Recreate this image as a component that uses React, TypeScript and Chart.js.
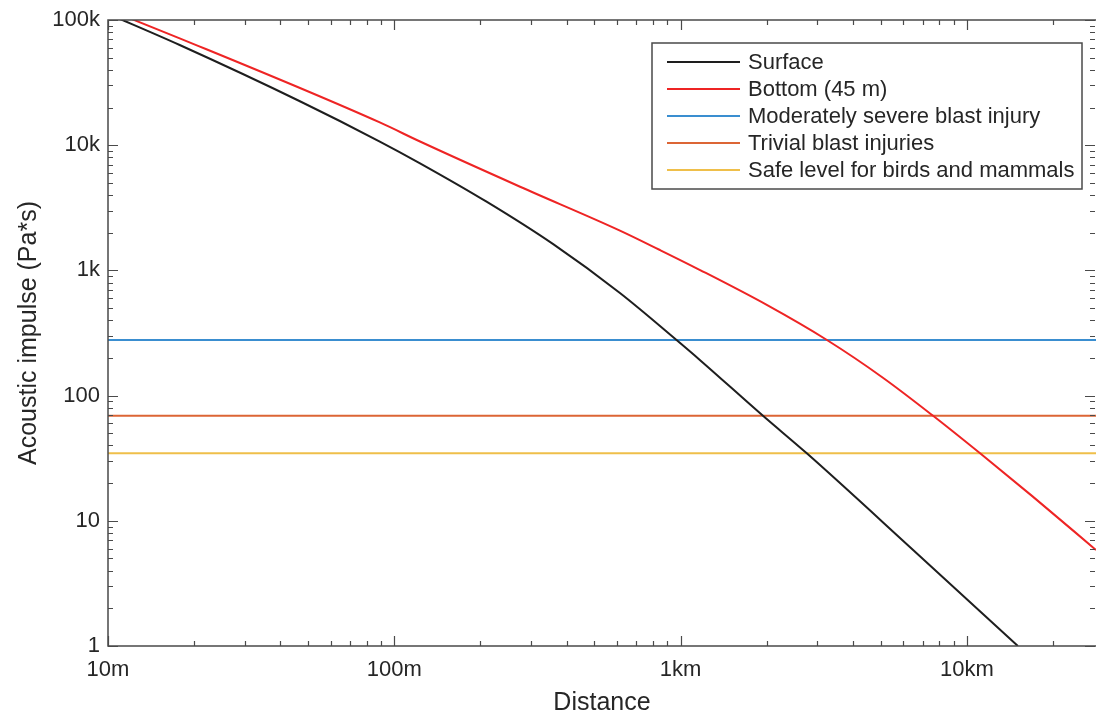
import React, { useEffect, useRef } from 'react';
import { Chart, registerables } from 'chart.js';

Chart.register(...registerables);

// ---- data ----
const xTickValues = [10, 100, 1000, 10000];
const xTickLabels = ['10m', '100m', '1km', '10km'];
const yTickValues = [1, 10, 100, 1000, 10000, 100000];
const yTickLabels = ['1', '10', '100', '1k', '10k', '100k'];

const surfaceDistance = [10, 17.8, 47, 89, 123, 210, 359, 614, 968, 1170, 1940, 2760, 6490, 15070];
const surfaceImpulse = [112000, 63100, 22340, 10700, 7170, 3540, 1620, 660, 278, 192, 69, 34.6, 5.85, 1];

const bottomDistance = [10, 17.8, 89, 123, 275, 614, 847, 1170, 2000, 3245, 5090, 7620, 11120, 17000, 28250];
const bottomImpulse = [121000, 71400, 15200, 10700, 4660, 2080, 1455, 1007, 530, 278, 139, 69, 34.6, 15.6, 5.85];

const thresholdLabels = ['Moderately severe blast injury', 'Trivial blast injuries', 'Safe level for birds and mammals'];
const thresholdValues = [278, 69, 34.6];
const thresholdColors = ['#3a8ed0', '#dc6535', '#efbf4a'];

const seriesLabels = ['Surface', 'Bottom (45 m)'];
const seriesColors = ['#1e1e1e', '#ee2424'];

const xMin = 10;
const xMax = 28250;
const yMin = 1;
const yMax = 100000;

const FONT = '"Liberation Sans", Arial, Helvetica, sans-serif';
const TEXT = '#262626';
const AXIS = '#4a4a4a';

function logTicks(min: number, max: number) {
  const out: { v: number; major: boolean }[] = [];
  const d0 = Math.floor(Math.log10(min));
  const d1 = Math.ceil(Math.log10(max));
  for (let d = d0; d <= d1; d++) {
    for (let m = 1; m <= 9; m++) {
      const v = m * Math.pow(10, d);
      if (v >= min * 0.9999 && v <= max * 1.0001) out.push({ v, major: m === 1 });
    }
  }
  return out;
}

const boxTicksPlugin = {
  id: 'boxTicks',
  afterDatasetsDraw(chart: any) {
    const { ctx, chartArea: a, scales } = chart;
    const xs = scales.x;
    const ys = scales.y;
    ctx.save();
    ctx.strokeStyle = AXIS;
    ctx.lineWidth = 1.5;
    ctx.beginPath();
    ctx.moveTo(a.right + 10, a.top);
    ctx.lineTo(a.left, a.top);
    ctx.lineTo(a.left, a.bottom);
    ctx.lineTo(a.right + 10, a.bottom);
    ctx.stroke();
    ctx.lineWidth = 1.2;
    ctx.beginPath();
    for (const t of logTicks(xMin, xMax)) {
      const px = Math.round(xs.getPixelForValue(t.v)) + 0.5;
      const len = t.major ? 10 : 5;
      ctx.moveTo(px, a.bottom);
      ctx.lineTo(px, a.bottom - len);
      ctx.moveTo(px, a.top);
      ctx.lineTo(px, a.top + len);
    }
    for (const t of logTicks(yMin, yMax)) {
      const py = Math.round(ys.getPixelForValue(t.v)) + 0.5;
      const len = t.major ? 10 : 5;
      ctx.moveTo(a.left, py);
      ctx.lineTo(a.left + len, py);
      ctx.moveTo(a.right - 1, py);
      ctx.lineTo(a.right - 1 - len, py);
    }
    ctx.stroke();
    ctx.restore();
  },
};

const legendPlugin = {
  id: 'boxLegend',
  afterDraw(chart: any) {
    const { ctx } = chart;
    const left = 652;
    const top = 43;
    const right = 1082;
    const bottom = 189;
    const rowH = 27;
    const firstY = 62;
    ctx.save();
    ctx.fillStyle = '#ffffff';
    ctx.fillRect(left, top, right - left, bottom - top);
    ctx.strokeStyle = AXIS;
    ctx.lineWidth = 1.5;
    ctx.strokeRect(left, top, right - left, bottom - top);
    ctx.font = `22px ${FONT}`;
    ctx.textBaseline = 'middle';
    ctx.textAlign = 'left';
    chart.data.datasets.forEach((ds: any, i: number) => {
      const y = firstY + i * rowH;
      ctx.strokeStyle = ds.borderColor;
      ctx.lineWidth = 2;
      ctx.beginPath();
      ctx.moveTo(667, y);
      ctx.lineTo(740, y);
      ctx.stroke();
      ctx.fillStyle = TEXT;
      ctx.fillText(ds.label, 748, y + 1);
    });
    ctx.restore();
  },
};

export default function App() {
  const canvasRef = useRef<HTMLCanvasElement | null>(null);

  useEffect(() => {
    if (!canvasRef.current) return;
    const surface = surfaceDistance.map((d, i) => ({ x: d, y: surfaceImpulse[i] }));
    const bottom = bottomDistance.map((d, i) => ({ x: d, y: bottomImpulse[i] }));
    const thresholds = thresholdValues.map((v, i) => ({
      label: thresholdLabels[i],
      data: [
        { x: xMin, y: v },
        { x: 30000, y: v },
      ],
      borderColor: thresholdColors[i],
      borderWidth: 2,
      pointRadius: 0,
      tension: 0,
    }));

    const chart = new Chart(canvasRef.current, {
      type: 'line',
      data: {
        datasets: [
          {
            label: seriesLabels[0],
            data: surface,
            borderColor: seriesColors[0],
            borderWidth: 2,
            pointRadius: 0,
            cubicInterpolationMode: 'monotone',
          },
          {
            label: seriesLabels[1],
            data: bottom,
            borderColor: seriesColors[1],
            borderWidth: 2,
            pointRadius: 0,
            cubicInterpolationMode: 'monotone',
          },
          ...thresholds,
        ] as any,
      },
      options: {
        animation: false,
        responsive: true,
        maintainAspectRatio: false,
        parsing: false as any,
        layout: { padding: { top: 20, right: 0, left: 0, bottom: 0 } },
        plugins: { legend: { display: false }, tooltip: { enabled: false } },
        scales: {
          x: {
            type: 'logarithmic',
            min: xMin,
            max: xMax,
            afterBuildTicks: (s: any) => {
              s.ticks = xTickValues.map((v) => ({ value: v }));
            },
            afterFit: (s: any) => {
              s.height = 74;
              s.paddingLeft = 0;
              s.paddingRight = 0;
            },
            ticks: {
              autoSkip: false,
              maxRotation: 0,
              padding: 11,
              color: TEXT,
              font: { family: FONT, size: 22 },
              callback: (_v: any, i: number) => xTickLabels[i],
            },
            grid: { display: false, drawTicks: false },
            border: { display: false },
            title: {
              display: true,
              text: 'Distance',
              color: TEXT,
              font: { family: FONT, size: 25 },
              padding: { top: 0, bottom: 2 },
            },
          },
          y: {
            type: 'logarithmic',
            min: yMin,
            max: yMax,
            afterBuildTicks: (s: any) => {
              s.ticks = yTickValues.map((v) => ({ value: v }));
            },
            afterFit: (s: any) => {
              s.width = 108;
              s.paddingTop = 0;
              s.paddingBottom = 0;
            },
            ticks: {
              autoSkip: false,
              padding: 8,
              color: TEXT,
              font: { family: FONT, size: 22 },
              callback: (_v: any, i: number) => yTickLabels[i],
            },
            grid: { display: false, drawTicks: false },
            border: { display: false },
            title: {
              display: true,
              text: 'Acoustic impulse (Pa*s)',
              color: TEXT,
              font: { family: FONT, size: 25 },
              padding: { top: 14, bottom: 0 },
            },
          },
        },
      } as any,
      plugins: [boxTicksPlugin, legendPlugin],
    });
    return () => chart.destroy();
  }, []);

  return (
    <div style={{ position: 'fixed', left: 0, top: 0, width: 1096, height: 720, background: '#ffffff' }}>
      <canvas ref={canvasRef} />
    </div>
  );
}
